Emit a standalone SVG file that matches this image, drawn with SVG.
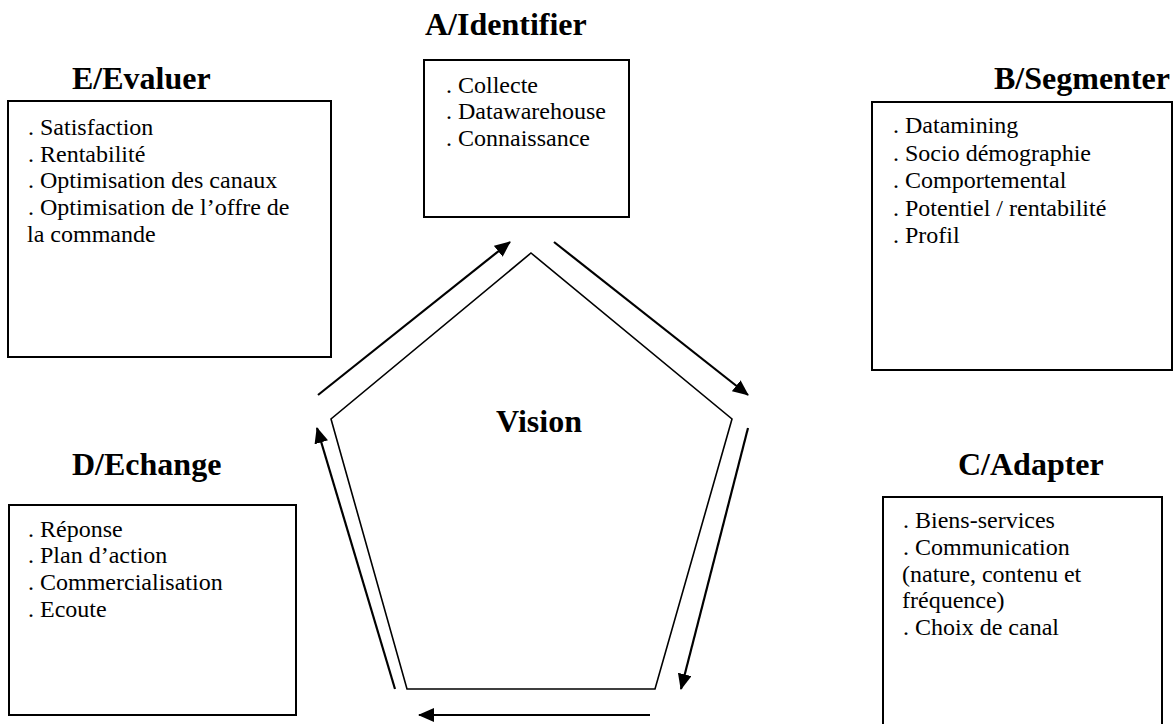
<svg xmlns="http://www.w3.org/2000/svg" width="1173" height="724" viewBox="0 0 1173 724">
  <style>
    .title { font-family: "Liberation Serif", "Times New Roman", serif; font-weight: bold; font-size: 32px; fill: #000; }
    .body { font-family: "Liberation Serif", "Times New Roman", serif; font-size: 24px; fill: #000; }
    .box { fill: #fff; stroke: #000; stroke-width: 2; }
    .shape { fill: none; stroke: #000; stroke-width: 1.6; }
    .link { fill: none; stroke: #000; stroke-width: 2.2; }
  </style>
  <defs>
    <marker id="head" viewBox="0 0 16 14" refX="15" refY="7" markerWidth="16" markerHeight="14" markerUnits="userSpaceOnUse" orient="auto">
      <path d="M0,0 L16,7 L0,14 z" fill="#000"/>
    </marker>
  </defs>
  <rect width="1173" height="724" fill="#fff"/>

  <!-- central pentagon -->
  <g id="vision">
    <polygon class="shape" points="531,253 732,419 655,689 407,689 331,419"/>
    <text class="title" x="496" y="432" font-size="28">Vision</text>
  </g>

  <!-- A : identify -->
  <g id="node-a">
    <text class="title" x="425" y="35">A/Identifier</text>
    <rect class="box" x="424" y="60" width="205" height="157"/>
    <text class="body" x="446" y="93">. Collecte</text>
    <text class="body" x="446" y="119">. Datawarehouse</text>
    <text class="body" x="446" y="146">. Connaissance</text>
  </g>

  <!-- B : segment -->
  <g id="node-b">
    <text class="title" x="994" y="89">B/Segmenter</text>
    <rect class="box" x="872" y="102" width="300" height="268"/>
    <text class="body" x="893" y="133">. Datamining</text>
    <text class="body" x="893" y="161">. Socio démographie</text>
    <text class="body" x="893" y="188">. Comportemental</text>
    <text class="body" x="893" y="216">. Potentiel / rentabilité</text>
    <text class="body" x="893" y="243">. Profil</text>
  </g>

  <!-- C : adapt -->
  <g id="node-c">
    <text class="title" x="958" y="475">C/Adapter</text>
    <rect class="box" x="883" y="497" width="279" height="240"/>
    <text class="body" x="903" y="528">. Biens-services</text>
    <text class="body" x="903" y="555">. Communication</text>
    <text class="body" x="902" y="582">(nature, contenu et</text>
    <text class="body" x="902" y="608">fréquence)</text>
    <text class="body" x="903" y="635">. Choix de canal</text>
  </g>

  <!-- D : exchange -->
  <g id="node-d">
    <text class="title" x="72" y="475">D/Echange</text>
    <rect class="box" x="9" y="505" width="287" height="210"/>
    <text class="body" x="28" y="537">. Réponse</text>
    <text class="body" x="28" y="563">. Plan d’action</text>
    <text class="body" x="28" y="590">. Commercialisation</text>
    <text class="body" x="28" y="617">. Ecoute</text>
  </g>

  <!-- E : evaluate -->
  <g id="node-e">
    <text class="title" x="72" y="89">E/Evaluer</text>
    <rect class="box" x="8" y="101" width="323" height="256"/>
    <text class="body" x="28" y="135">. Satisfaction</text>
    <text class="body" x="28" y="162">. Rentabilité</text>
    <text class="body" x="28" y="188">. Optimisation des canaux</text>
    <text class="body" x="28" y="215">. Optimisation de l’offre de</text>
    <text class="body" x="27" y="242">la commande</text>
  </g>

  <!-- cycle arrows around the pentagon -->
  <g id="connectors">
    <line class="link" x1="318" y1="395" x2="510" y2="242" marker-end="url(#head)"/>
    <line class="link" x1="554" y1="242" x2="748" y2="395" marker-end="url(#head)"/>
    <line class="link" x1="748" y1="428" x2="681" y2="689" marker-end="url(#head)"/>
    <line class="link" x1="650" y1="715" x2="419" y2="715" marker-end="url(#head)"/>
    <line class="link" x1="395" y1="689" x2="317" y2="428" marker-end="url(#head)"/>
  </g>
</svg>
